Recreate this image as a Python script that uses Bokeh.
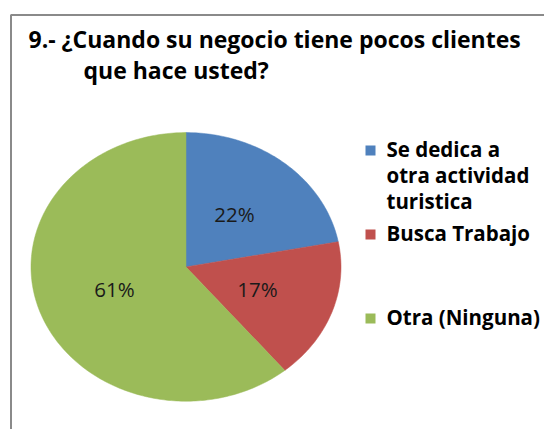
import math
from bokeh.plotting import figure
from bokeh.models import Range1d
from bokeh.core.properties import value
from bokeh.embed import file_html
from bokeh.resources import INLINE

# ---- data ----
title_lines = ["9.- ¿Cuando su negocio tiene pocos clientes", "que hace usted?"]
categories = ["Se dedica a\notra actividad\nturistica", "Busca Trabajo", "Otra (Ninguna)"]
percents = [22, 17, 61]
colors = ["#4F81BD", "#C0504D", "#9BBB59"]

# ---- layout (canvas pixel space, y downward) ----
W, H = 544, 429
p = figure(width=W, height=H, output_backend="svg", toolbar_location=None,
           x_range=Range1d(0, W), y_range=Range1d(H, 0), min_border=0)
p.axis.visible = False
p.grid.visible = False
p.outline_line_color = None
p.background_fill_color = "white"
p.border_fill_color = "white"

# chart frame border (cropped chart area)
p.line(x=[10.5, 10.5, W + 20], y=[H + 20, 14.5, 14.5], line_color="#8A8A8A", line_width=2)

# title
p.text(x=[28], y=[38.5], text=[title_lines[0]], text_font=value("Open Sans"),
       text_font_style="bold", text_font_size="23px", text_color="#000000",
       text_baseline="alphabetic", text_align="left")
p.text(x=[83], y=[69], text=[title_lines[1]], text_font=value("Open Sans"),
       text_font_style="bold", text_font_size="23px", text_color="#000000",
       text_baseline="alphabetic", text_align="left")

# pie (elliptical, start at 12 o'clock, clockwise)
cx, cy, rx, ry = 185.5, 266.4, 155.0, 134.3
total = float(sum(percents))
xs, ys, lx, ly = [], [], [], []
cum = 0.0
for v in percents:
    a0 = cum / total * 2 * math.pi
    cum += v
    a1 = cum / total * 2 * math.pi
    n = max(4, int(400 * (a1 - a0) / (2 * math.pi)))
    px, py = [cx], [cy]
    for i in range(n + 1):
        a = a0 + (a1 - a0) * i / n
        px.append(cx + rx * math.sin(a))
        py.append(cy - ry * math.cos(a))
    xs.append(px)
    ys.append(py)
    am = (a0 + a1) / 2
    lx.append(cx + 0.49 * rx * math.sin(am))
    ly.append(cy - 0.5 * ry * math.cos(am) - 1)

p.patches(xs=xs, ys=ys, fill_color=colors, line_color=colors, line_width=0.5)
p.text(x=lx, y=ly, text=[f"{v}%" for v in percents], text_font=value("Open Sans"),
       text_font_size="20.5px", text_color="#1A1A1A", text_align="center",
       text_baseline="middle")

# legend
leg_x, leg_y0, leg_step, line_h = 370, 150, 84, 26
for i, (lab, col) in enumerate(zip(categories, colors)):
    yc = leg_y0 + i * leg_step
    p.rect(x=[leg_x], y=[yc], width=10, height=10, fill_color=col, line_color=None)
    for j, ln in enumerate(lab.split("\n")):
        p.text(x=[leg_x + 16], y=[yc - 1.5 + j * line_h], text=[ln],
               text_font=value("Open Sans"), text_font_style="bold",
               text_font_size="20.5px", text_color="#000000",
               text_baseline="alphabetic", text_align="left")

open("out.html", "w").write(file_html(p, INLINE))
